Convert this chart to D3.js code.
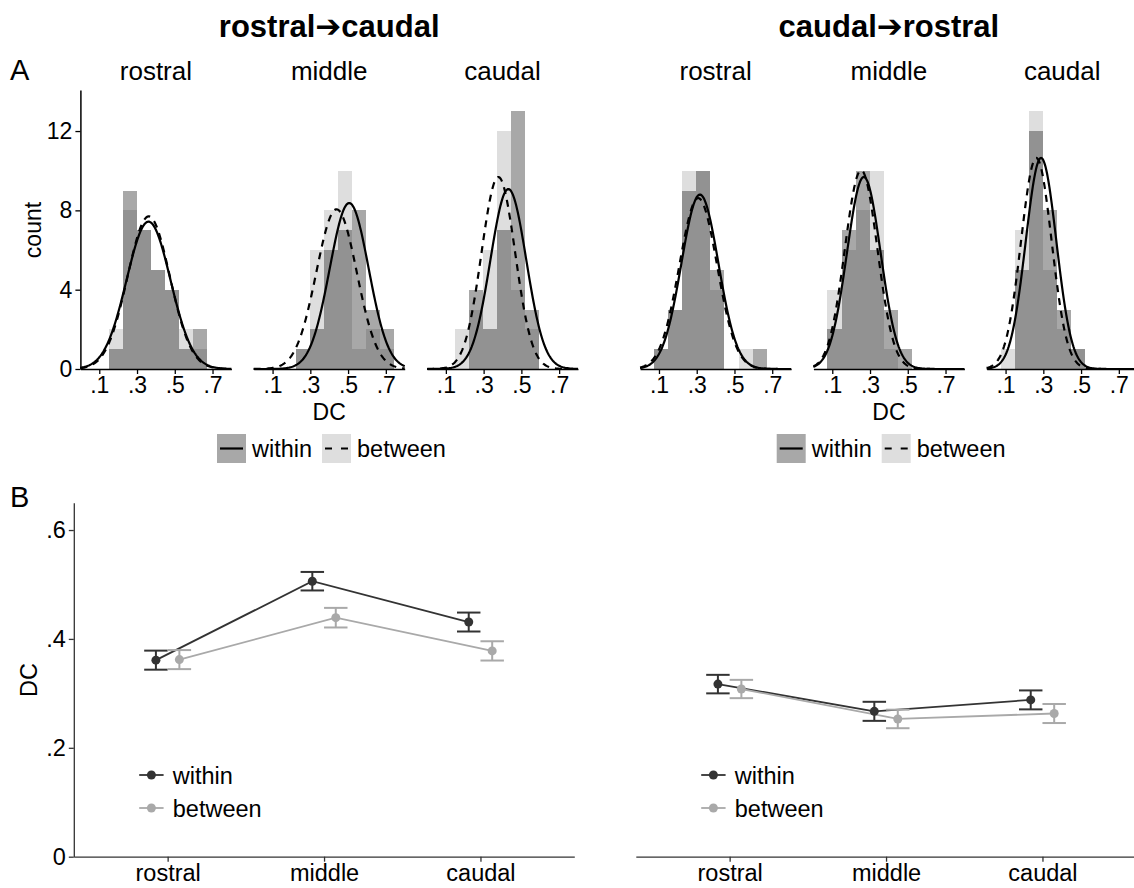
<!DOCTYPE html>
<html>
<head>
<meta charset="utf-8">
<script src="https://cdn.jsdelivr.net/npm/d3@7"></script>
<style>
  body { margin: 0; background: #fff; }
</style>
</head>
<body>
<script>
// ---- data ----
var groupTitles = ["rostral\u2794caudal", "caudal\u2794rostral"];
var regions = ["rostral", "middle", "caudal"];
var nSubjects = 29;
var binWidth = 0.0745;
var binStarts = [0.0745, 0.149, 0.2235, 0.298, 0.3725, 0.447, 0.5215, 0.596, 0.6705];

// histogram counts, one row per region (rostral, middle, caudal)
var withinCountsRC = [[0,1,9,7,5,4,1,2,0], [0,0,1,2,6,7,8,3,2], [0,0,4,2,7,13,3,0,0]];
var betweenCountsRC = [[0,2,8,7,5,4,2,1,0], [0,0,1,6,8,10,1,2,1], [0,2,3,6,12,4,2,0,0]];
var withinCountsCR = [[1,3,9,10,5,0,0,1,0], [2,7,10,6,3,1,0,0,0], [0,5,12,8,3,1,0,0,0]];
var betweenCountsCR = [[1,3,10,10,4,0,1,0,0], [4,6,8,10,1,0,0,0,0], [1,7,13,5,2,1,0,0,0]];

// group means and standard errors (panel B)
var withinMeanRC = [0.361, 0.506, 0.431];
var betweenMeanRC = [0.362, 0.439, 0.378];
var withinMeanCR = [0.317, 0.267, 0.288];
var betweenMeanCR = [0.308, 0.253, 0.263];
var withinSeRC = [0.0175, 0.017, 0.0174];
var betweenSeRC = [0.0175, 0.018, 0.0177];
var withinSeCR = [0.017, 0.0175, 0.0174];
var betweenSeCR = [0.0168, 0.017, 0.0175];

// sd of the fitted normal curves (panel A)
var withinSdRC = [0.116, 0.103, 0.095];
var betweenSdRC = [0.112, 0.107, 0.089];
var withinSdCR = [0.098, 0.089, 0.081];
var betweenSdCR = [0.100, 0.086, 0.081];

var countTicks = [0, 4, 8, 12];
var dcTicksA = [0.1, 0.3, 0.5, 0.7];
var dcTicksB = [0, 0.2, 0.4, 0.6];

var groupsData = [
  {title: groupTitles[0],
   within: {counts: withinCountsRC, mean: withinMeanRC, sd: withinSdRC, se: withinSeRC},
   between: {counts: betweenCountsRC, mean: betweenMeanRC, sd: betweenSdRC, se: betweenSeRC}},
  {title: groupTitles[1],
   within: {counts: withinCountsCR, mean: withinMeanCR, sd: withinSdCR, se: withinSeCR},
   between: {counts: betweenCountsCR, mean: betweenMeanCR, sd: betweenSdCR, se: betweenSeCR}}
];

function fmtDC(d) {
  return d === 0 ? "0" : d3.format(".1f")(d).replace("0.", ".");
}

// fitted normal, scaled to histogram counts
function normalCount(x, mean, sd) {
  var z = (x - mean) / sd;
  return nSubjects * binWidth * Math.exp(-0.5 * z * z) / (sd * Math.sqrt(2 * Math.PI));
}

var svg = d3.select("body").append("svg")
    .attr("width", 1134)
    .attr("height", 888)
    .style("font-family", "'Liberation Sans', Arial, 'DejaVu Sans', sans-serif");

// ---------------- panel A ----------------
var yA = d3.scaleLinear().domain([0, 14.07]).range([369, 90]);
var facetLeft = 80.4, facetWidth = 151, facetStep = 173.3, groupShift = 559.7;
var curveX = d3.range(0, 0.8001, 0.004);

svg.append("text").attr("x", 10).attr("y", 80)
    .style("font-size", "29px").text("A");

groupsData.forEach(function(grp, g) {
  var gx = facetLeft + g * groupShift;

  // group title
  svg.append("text")
      .attr("x", gx + facetStep + facetWidth / 2)
      .attr("y", 37)
      .attr("text-anchor", "middle")
      .style("font-weight", "bold")
      .style("font-size", "31px")
      .text(grp.title);

  regions.forEach(function(region, f) {
    var x0 = gx + f * facetStep;
    var x = d3.scaleLinear().domain([0, 0.8]).range([x0, x0 + facetWidth]);
    var facet = svg.append("g");

    // histogram bars, between first then within (both translucent)
    ["between", "within"].forEach(function(cond) {
      var bars = grp[cond].counts[f].map(function(v, i) {
        return {start: binStarts[i], value: v};
      }).filter(function(d) { return d.value > 0; });
      facet.selectAll(".bar-" + cond)
          .data(bars)
          .enter().append("rect")
          .attr("class", "bar-" + cond)
          .attr("x", function(d) { return x(d.start); })
          .attr("width", function(d) { return x(d.start + binWidth) - x(d.start); })
          .attr("y", function(d) { return yA(d.value); })
          .attr("height", function(d) { return yA(0) - yA(d.value); })
          .attr("fill", "#000")
          .attr("fill-opacity", cond == "within" ? 0.34 : 0.13)
          .attr("shape-rendering", "crispEdges");
    });

    // fitted curves
    ["within", "between"].forEach(function(cond) {
      var c = grp[cond];
      var line = d3.line()
          .x(function(d) { return x(d); })
          .y(function(d) { return yA(normalCount(d, c.mean[f], c.sd[f])); });
      facet.append("path")
          .datum(curveX)
          .attr("d", line)
          .style("fill", "none")
          .style("stroke", "#000")
          .style("stroke-width", "2.2px")
          .style("stroke-dasharray", cond == "between" ? "7,6" : null);
    });

    // x axis
    var ax = facet.append("g")
        .attr("transform", "translate(0," + yA(0) + ")")
        .call(d3.axisBottom(x).tickValues(dcTicksA).tickFormat(fmtDC).tickSize(5).tickSizeOuter(0))
        .attr("font-family", null).attr("font-size", 23);
    ax.select(".domain").style("stroke", "#000").style("stroke-width", "1.5px");
    ax.selectAll(".tick line").style("stroke", "#000").style("stroke-width", "1.3px");
    ax.selectAll(".tick text").attr("fill", "#000");

    // facet label
    svg.append("text")
        .attr("x", x0 + facetWidth / 2)
        .attr("y", 80)
        .attr("text-anchor", "middle")
        .style("font-size", "26px")
        .text(region);
  });

  // x title
  svg.append("text")
      .attr("x", gx + facetStep + facetWidth / 2)
      .attr("y", 420)
      .attr("text-anchor", "middle")
      .style("font-size", "23px")
      .text("DC");

  // legend A
  [["within", 0], ["between", 105]].forEach(function(k) {
    var kx = 217 + g * groupShift + k[1];
    svg.append("rect").attr("x", kx).attr("y", 434).attr("width", 29).attr("height", 29)
        .attr("fill", k[0] == "within" ? "#a8a8a8" : "#dedede");
    svg.append("line").attr("x1", kx + 3).attr("x2", kx + 26).attr("y1", 448.5).attr("y2", 448.5)
        .style("stroke", "#000").style("stroke-width", "2.2px")
        .style("stroke-dasharray", k[0] == "between" ? "7,9" : null);
    svg.append("text").attr("x", kx + 35).attr("y", 457)
        .style("font-size", "23.5px").text(k[0]);
  });
});

// y axis (left group only)
var ay = svg.append("g")
    .attr("transform", "translate(" + facetLeft + ",0)")
    .call(d3.axisLeft(yA).tickValues(countTicks).tickSize(5).tickSizeOuter(0))
    .attr("font-family", null).attr("font-size", 23);
ay.select(".domain").style("stroke", "#000").style("stroke-width", "1.5px");
ay.selectAll(".tick line").style("stroke", "#000").style("stroke-width", "1.3px");
ay.selectAll(".tick text").attr("fill", "#000");

svg.append("text")
    .attr("transform", "translate(41,230) rotate(-90)")
    .attr("text-anchor", "middle")
    .style("font-size", "23px")
    .text("count");

// ---------------- panel B ----------------
var yB = d3.scaleLinear().domain([0, 0.65]).range([856.7, 502.8]);
var bLefts = [73.8, 635.8], bWidth = 500.5;
var colors = {within: "#333333", between: "#a9a9a9"};
var dodge = 0.15;

svg.append("text").attr("x", 10).attr("y", 507)
    .style("font-size", "29px").text("B");

groupsData.forEach(function(grp, g) {
  var xB = d3.scalePoint().domain(regions).range([bLefts[g], bLefts[g] + bWidth]).padding(0.6);
  var off = {within: -dodge / 2 * xB.step(), between: dodge / 2 * xB.step()};
  var cap = dodge * xB.step() / 2;
  var panel = svg.append("g");

  function pts(cond) {
    return regions.map(function(r, i) {
      return {x: xB(r) + off[cond], mean: grp[cond].mean[i], se: grp[cond].se[i]};
    });
  }

  // lines
  ["within", "between"].forEach(function(cond) {
    panel.append("path")
        .datum(pts(cond))
        .attr("d", d3.line().x(function(d) { return d.x; }).y(function(d) { return yB(d.mean); }))
        .style("fill", "none")
        .style("stroke", colors[cond])
        .style("stroke-width", "1.8px");
  });

  // error bars
  ["within", "between"].forEach(function(cond) {
    var eb = panel.selectAll(".eb-" + cond).data(pts(cond)).enter().append("g")
        .style("stroke", colors[cond]).style("stroke-width", "2px");
    eb.append("line")
        .attr("x1", function(d) { return d.x; }).attr("x2", function(d) { return d.x; })
        .attr("y1", function(d) { return yB(d.mean - d.se); })
        .attr("y2", function(d) { return yB(d.mean + d.se); });
    eb.append("line")
        .attr("x1", function(d) { return d.x - cap; }).attr("x2", function(d) { return d.x + cap; })
        .attr("y1", function(d) { return yB(d.mean + d.se); })
        .attr("y2", function(d) { return yB(d.mean + d.se); });
    eb.append("line")
        .attr("x1", function(d) { return d.x - cap; }).attr("x2", function(d) { return d.x + cap; })
        .attr("y1", function(d) { return yB(d.mean - d.se); })
        .attr("y2", function(d) { return yB(d.mean - d.se); });
  });

  // points
  ["within", "between"].forEach(function(cond) {
    panel.selectAll(".pt-" + cond).data(pts(cond)).enter().append("circle")
        .attr("cx", function(d) { return d.x; })
        .attr("cy", function(d) { return yB(d.mean); })
        .attr("r", 4.5)
        .attr("fill", colors[cond]);
  });

  // x axis
  var axb = panel.append("g")
      .attr("transform", "translate(0," + yB(0) + ")")
      .call(d3.axisBottom(xB).tickSize(5).tickSizeOuter(0))
      .attr("font-family", null).attr("font-size", 23.5);
  axb.select(".domain").style("stroke", "#333").style("stroke-width", "1.3px");
  axb.selectAll(".tick line").style("stroke", "#333").style("stroke-width", "1.3px");
  axb.selectAll(".tick text").attr("fill", "#000");

  // legend B
  [["within", 775], ["between", 808]].forEach(function(k) {
    var lx = bLefts[g] + 65.4;
    svg.append("line").attr("x1", lx).attr("x2", lx + 24.4).attr("y1", k[1]).attr("y2", k[1])
        .style("stroke", colors[k[0]]).style("stroke-width", "1.8px");
    svg.append("circle").attr("cx", lx + 12.2).attr("cy", k[1]).attr("r", 4.5)
        .attr("fill", colors[k[0]]);
    svg.append("text").attr("x", lx + 33.6).attr("y", k[1] + 8.5)
        .style("font-size", "23.5px").text(k[0]);
  });
});

// y axis B (left panel only)
var ayb = svg.append("g")
    .attr("transform", "translate(" + bLefts[0] + ",0)")
    .call(d3.axisLeft(yB).tickValues(dcTicksB).tickFormat(fmtDC).tickSize(5).tickSizeOuter(0))
    .attr("font-family", null).attr("font-size", 23.5);
ayb.select(".domain").style("stroke", "#333").style("stroke-width", "1.3px");
ayb.selectAll(".tick line").style("stroke", "#333").style("stroke-width", "1.3px");
ayb.selectAll(".tick text").attr("fill", "#000");

svg.append("text")
    .attr("transform", "translate(37,680) rotate(-90)")
    .attr("text-anchor", "middle")
    .style("font-size", "23.5px")
    .text("DC");
</script>
</body>
</html>
